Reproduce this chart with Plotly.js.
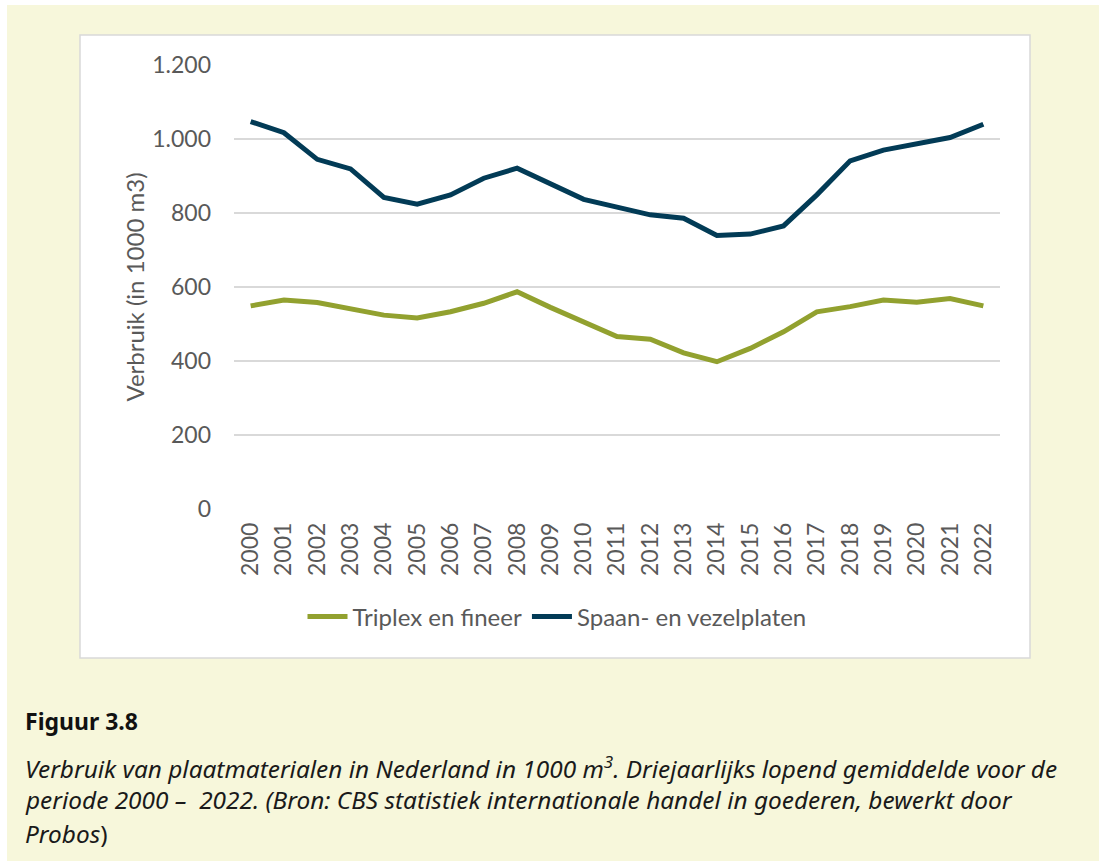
<!DOCTYPE html>
<html>
<head>
<meta charset="utf-8">
<script src="https://cdn.plot.ly/plotly-3.0.1.min.js"></script>
<style>
html,body{margin:0;padding:0;background:#ffffff;}
#chart{width:1099px;height:861px;}
</style>
</head>
<body>
<div id="chart"></div>
<script>
// ---- data ----
var years = ["2000","2001","2002","2003","2004","2005","2006","2007","2008","2009","2010","2011","2012","2013","2014","2015","2016","2017","2018","2019","2020","2021","2022"];
var triplexName = "Triplex en fineer";
var triplex = [549,565,558,542,524,516,533,556,587,545,504,466,459,422,398,434,479,533,547,565,559,569,549];
var spaanName = "Spaan- en vezelplaten";
var spaan = [1047,1017,945,919,842,824,849,894,921,878,837,816,795,786,739,743,765,849,941,970,986,1004,1040];
var yTickVals = [0,200,400,600,800,1000,1200];
var yTickText = ["0","200","400","600","800","1.000","1.200"];
var yTitle = "Verbruik (in 1000 m3)";
var captionHead = "Figuur 3.8";
var captionLines = [
  "<i>Verbruik van plaatmaterialen in Nederland in 1000 m<sup>3</sup>. Driejaarlijks lopend gemiddelde voor de</i>",
  "<i>periode 2000 \u2013  2022. (Bron: CBS statistiek internationale handel in goederen, bewerkt door</i>",
  "<i>Probos</i>)"
];

// ---- layout helpers (pixel -> paper) ----
var L = 234, R = 1000, T = 65, B = 509, W = 1099, H = 861;
function px(x){ return (x - L) / (R - L); }
function py(y){ return (B - y) / (B - T); }

var tickFont = {family: "Lato, 'Noto Sans', sans-serif", size: 23, color: "#595959"};

var traces = [
  {x: years, y: triplex, name: triplexName, type: "scatter", mode: "lines",
   line: {color: "#92A12F", width: 5}},
  {x: years, y: spaan, name: spaanName, type: "scatter", mode: "lines",
   line: {color: "#023B56", width: 5}}
];

var annotations = [
  {text: "<b>" + captionHead + "</b>", xref: "paper", yref: "paper", x: px(23), y: py(721),
   xanchor: "left", yanchor: "middle", showarrow: false,
   font: {family: "'Noto Sans', sans-serif", size: 23, color: "#111111"}}
];
var capY = [767, 800, 833];
captionLines.forEach(function(t, i){
  annotations.push({text: t, xref: "paper", yref: "paper", x: px(23), y: py(capY[i]),
    xanchor: "left", yanchor: "middle", showarrow: false, align: "left",
    font: {family: "'Noto Sans', sans-serif", size: 24.4, color: "#1a1a1a"}});
});

var layout = {
  width: W, height: H,
  margin: {l: L, r: W - R, t: T, b: H - B, pad: 0},
  paper_bgcolor: "#ffffff",
  plot_bgcolor: "rgba(0,0,0,0)",
  showlegend: true,
  legend: {orientation: "h", x: px(557), y: py(617), xanchor: "center", yanchor: "middle",
           font: {family: "Lato, 'Noto Sans', sans-serif", size: 24, color: "#595959"},
           bgcolor: "rgba(0,0,0,0)", itemwidth: 40},
  xaxis: {type: "category", range: [-0.5, 22.5], tickangle: -90, tickfont: tickFont,
          showgrid: false, zeroline: false, showline: false, ticks: "",
          ticklabelstandoff: 8, fixedrange: true},
  yaxis: {range: [0, 1200], tickvals: yTickVals, ticktext: yTickText, tickfont: tickFont,
          showgrid: true, gridcolor: "#D9D9D9", gridwidth: 2, zeroline: false, showline: false,
          ticks: "", ticklabelstandoff: 22, fixedrange: true,
          title: {text: yTitle, font: {family: "Lato, 'Noto Sans', sans-serif", size: 24, color: "#595959"}, standoff: 0}},
  shapes: [
    {type: "rect", xref: "paper", yref: "paper", layer: "below",
     x0: px(7), x1: px(1099), y0: py(861), y1: py(5),
     fillcolor: "#F7F7DB", line: {width: 0}},
    {type: "rect", xref: "paper", yref: "paper", layer: "below",
     x0: px(80), x1: px(1030), y0: py(658), y1: py(35),
     fillcolor: "#ffffff", line: {color: "#D9D9D9", width: 1.5}}
  ],
  annotations: annotations
};

Plotly.newPlot("chart", traces, layout, {displayModeBar: false, staticPlot: true});
</script>
</body>
</html>
